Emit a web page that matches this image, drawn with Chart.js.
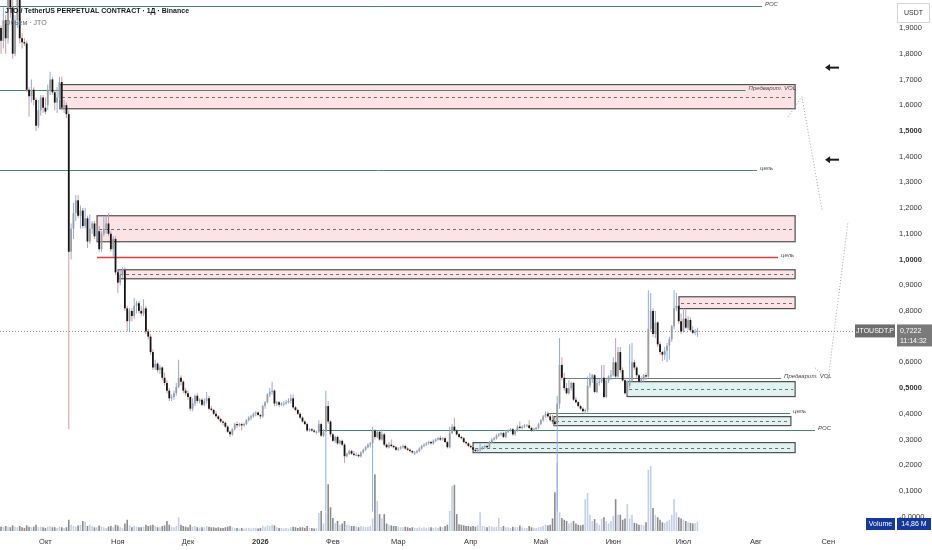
<!DOCTYPE html>
<html>
<head>
<meta charset="utf-8">
<title>JTOUSDT.P 1D</title>
<script src="https://cdn.jsdelivr.net/npm/chart.js@4.4.1/dist/chart.umd.min.js"></script>
<style>
html, body { margin: 0; padding: 0; background: #ffffff; }
#wrap { position: relative; width: 932px; height: 550px; }
</style>
</head>
<body>
<div id="wrap"><canvas id="chart" width="932" height="550"></canvas></div>
<script>
"use strict";

// Daily candles, day 0 = 12 Sep 2025, last day = 7 Jul 2026

var opens = [
	1.90,1.85,1.93,1.86,2.02,1.98,1.80,1.93,2.02,1.86,
	1.845,1.84,1.66,1.635,1.66,1.62,1.52,1.58,1.63,1.59,
	1.60,1.66,1.70,1.65,1.61,1.63,1.69,1.59,1.60,1.565,
	1.03,1.12,1.18,1.23,1.17,1.19,1.13,1.16,1.07,1.12,
	1.14,1.09,1.11,1.04,1.10,1.12,1.14,1.10,1.04,1.08,
	0.95,0.91,0.94,0.96,0.81,0.76,0.80,0.78,0.82,0.83,
	0.80,0.79,0.81,0.72,0.70,0.64,0.58,0.595,0.57,0.58,
	0.54,0.52,0.49,0.46,0.465,0.48,0.505,0.54,0.525,0.49,
	0.48,0.465,0.42,0.44,0.47,0.45,0.455,0.435,0.45,0.46,
	0.42,0.415,0.40,0.39,0.38,0.37,0.365,0.35,0.33,0.32,
	0.34,0.36,0.355,0.36,0.355,0.36,0.375,0.385,0.39,0.40,
	0.405,0.395,0.39,0.43,0.445,0.475,0.485,0.49,0.44,0.445,
	0.435,0.44,0.44,0.445,0.45,0.46,0.425,0.415,0.40,0.385,
	0.37,0.36,0.335,0.34,0.335,0.33,0.33,0.36,0.315,0.33,
	0.43,0.37,0.32,0.295,0.31,0.285,0.295,0.28,0.235,0.245,
	0.255,0.245,0.24,0.24,0.235,0.25,0.26,0.27,0.28,0.285,
	0.335,0.31,0.33,0.30,0.32,0.28,0.27,0.28,0.275,0.27,
	0.26,0.265,0.27,0.275,0.265,0.26,0.255,0.25,0.25,0.255,
	0.265,0.275,0.28,0.285,0.29,0.285,0.295,0.30,0.305,0.30,
	0.305,0.29,0.27,0.325,0.35,0.335,0.32,0.31,0.305,0.29,
	0.285,0.275,0.27,0.26,0.255,0.26,0.265,0.27,0.275,0.27,
	0.29,0.30,0.305,0.315,0.32,0.325,0.31,0.33,0.335,0.34,
	0.32,0.335,0.35,0.345,0.35,0.355,0.355,0.345,0.335,0.34,
	0.345,0.36,0.375,0.39,0.40,0.39,0.375,0.37,0.36,0.44,
	0.59,0.54,0.50,0.48,0.50,0.52,0.455,0.445,0.43,0.42,
	0.41,0.415,0.51,0.535,0.55,0.485,0.52,0.525,0.54,0.465,
	0.53,0.545,0.55,0.60,0.545,0.64,0.57,0.53,0.48,0.51,
	0.53,0.60,0.58,0.55,0.525,0.535,0.55,0.545,0.73,0.80,
	0.71,0.755,0.67,0.64,0.63,0.645,0.665,0.69,0.74,0.81,
	0.82,0.76,0.72,0.77,0.735,0.765,0.725,0.715,0.72
];

var highs = [
	1.91,1.98,1.95,2.06,2.08,2.05,1.95,2.06,2.05,1.88,
	1.86,1.85,1.67,1.70,1.67,1.63,1.62,1.64,1.64,1.63,
	1.68,1.73,1.71,1.66,1.67,1.71,1.71,1.62,1.61,1.58,
	1.14,1.22,1.25,1.25,1.21,1.20,1.20,1.17,1.175,1.15,
	1.15,1.13,1.13,1.11,1.165,1.17,1.18,1.11,1.09,1.09,
	0.96,0.96,0.97,0.97,0.82,0.81,0.81,0.85,0.84,0.84,
	0.82,0.845,0.82,0.73,0.71,0.65,0.61,0.60,0.59,0.585,
	0.56,0.53,0.50,0.475,0.49,0.52,0.61,0.55,0.53,0.50,
	0.49,0.47,0.46,0.475,0.48,0.46,0.46,0.46,0.485,0.47,
	0.43,0.42,0.41,0.395,0.385,0.375,0.37,0.355,0.335,0.345,
	0.365,0.37,0.365,0.365,0.365,0.38,0.39,0.395,0.405,0.41,
	0.41,0.40,0.435,0.45,0.48,0.50,0.525,0.495,0.45,0.45,
	0.445,0.45,0.455,0.46,0.475,0.475,0.43,0.42,0.405,0.39,
	0.375,0.365,0.345,0.345,0.34,0.335,0.375,0.365,0.34,0.49,
	0.45,0.375,0.325,0.315,0.315,0.30,0.30,0.285,0.25,0.26,
	0.26,0.255,0.25,0.245,0.255,0.265,0.275,0.285,0.29,0.35,
	0.34,0.335,0.335,0.34,0.325,0.285,0.29,0.30,0.28,0.275,
	0.27,0.275,0.28,0.28,0.27,0.265,0.26,0.255,0.26,0.27,
	0.28,0.285,0.29,0.295,0.295,0.30,0.305,0.31,0.315,0.31,
	0.31,0.295,0.35,0.36,0.385,0.34,0.325,0.315,0.31,0.295,
	0.29,0.28,0.275,0.265,0.265,0.285,0.275,0.28,0.28,0.295,
	0.305,0.31,0.32,0.325,0.33,0.33,0.335,0.34,0.345,0.345,
	0.34,0.355,0.37,0.355,0.36,0.36,0.375,0.35,0.345,0.35,
	0.365,0.38,0.395,0.41,0.41,0.40,0.395,0.38,0.47,0.695,
	0.62,0.56,0.52,0.53,0.525,0.525,0.465,0.45,0.435,0.425,
	0.42,0.545,0.56,0.555,0.555,0.535,0.535,0.59,0.59,0.535,
	0.55,0.57,0.62,0.695,0.66,0.66,0.58,0.54,0.53,0.67,
	0.675,0.61,0.585,0.555,0.545,0.555,0.56,0.88,0.87,0.81,
	0.80,0.76,0.68,0.645,0.66,0.675,0.70,0.745,0.88,0.87,
	0.84,0.79,0.81,0.805,0.78,0.775,0.74,0.73,0.735
];

var lows = [
	1.80,1.82,1.80,1.84,1.94,1.78,1.79,1.90,1.84,1.82,
	1.83,1.65,1.555,1.61,1.60,1.50,1.51,1.56,1.57,1.565,
	1.58,1.64,1.64,1.58,1.57,1.62,1.58,1.57,1.55,0.34,
	1.00,1.08,1.15,1.16,1.12,1.12,1.12,1.045,1.06,1.10,
	1.08,1.07,1.03,1.03,1.09,1.10,1.09,1.03,1.01,0.94,
	0.87,0.90,0.93,0.80,0.72,0.72,0.76,0.77,0.79,0.79,
	0.78,0.78,0.71,0.69,0.63,0.57,0.57,0.56,0.555,0.53,
	0.51,0.48,0.45,0.45,0.455,0.47,0.50,0.51,0.48,0.47,
	0.455,0.41,0.41,0.43,0.44,0.44,0.43,0.43,0.44,0.415,
	0.41,0.395,0.385,0.375,0.365,0.355,0.345,0.325,0.31,0.315,
	0.335,0.345,0.35,0.335,0.35,0.355,0.37,0.375,0.385,0.39,
	0.39,0.38,0.385,0.42,0.44,0.465,0.475,0.43,0.43,0.425,
	0.43,0.43,0.435,0.44,0.44,0.42,0.41,0.395,0.38,0.365,
	0.355,0.33,0.33,0.33,0.325,0.32,0.325,0.31,0.31,0.02,
	0.36,0.31,0.29,0.285,0.28,0.28,0.275,0.21,0.23,0.24,
	0.24,0.235,0.235,0.23,0.23,0.245,0.255,0.265,0.27,0.02,
	0.30,0.305,0.295,0.295,0.275,0.265,0.265,0.27,0.265,0.255,
	0.255,0.26,0.265,0.26,0.255,0.25,0.245,0.24,0.245,0.25,
	0.26,0.27,0.275,0.28,0.28,0.28,0.29,0.295,0.295,0.295,
	0.285,0.265,0.265,0.32,0.33,0.315,0.305,0.30,0.285,0.28,
	0.27,0.265,0.255,0.25,0.25,0.25,0.26,0.265,0.265,0.265,
	0.285,0.295,0.30,0.31,0.315,0.305,0.305,0.325,0.33,0.315,
	0.315,0.33,0.34,0.34,0.345,0.35,0.34,0.33,0.33,0.335,
	0.34,0.355,0.37,0.385,0.385,0.37,0.36,0.35,0.02,0.42,
	0.53,0.49,0.475,0.475,0.49,0.45,0.44,0.425,0.415,0.405,
	0.40,0.405,0.50,0.52,0.48,0.48,0.51,0.52,0.46,0.46,
	0.52,0.53,0.545,0.54,0.54,0.56,0.525,0.475,0.475,0.50,
	0.525,0.57,0.54,0.52,0.52,0.525,0.53,0.54,0.72,0.70,
	0.695,0.66,0.63,0.605,0.61,0.60,0.61,0.68,0.73,0.80,
	0.75,0.71,0.715,0.73,0.725,0.72,0.71,0.705,0.70
];

var closes = [
	1.85,1.93,1.86,2.02,1.98,1.80,1.93,2.02,1.86,1.845,
	1.84,1.66,1.635,1.66,1.62,1.52,1.58,1.63,1.59,1.575,
	1.66,1.70,1.65,1.61,1.63,1.69,1.59,1.60,1.565,1.03,
	1.12,1.18,1.23,1.17,1.19,1.13,1.16,1.07,1.12,1.14,
	1.09,1.11,1.04,1.10,1.12,1.14,1.10,1.04,1.08,0.95,
	0.91,0.94,0.96,0.81,0.76,0.80,0.78,0.82,0.83,0.80,
	0.79,0.81,0.72,0.70,0.64,0.58,0.595,0.57,0.58,0.54,
	0.52,0.49,0.46,0.465,0.48,0.505,0.54,0.525,0.49,0.48,
	0.465,0.42,0.44,0.47,0.45,0.455,0.435,0.45,0.46,0.42,
	0.415,0.40,0.39,0.38,0.37,0.365,0.35,0.33,0.32,0.34,
	0.36,0.355,0.36,0.355,0.36,0.375,0.385,0.39,0.40,0.405,
	0.395,0.39,0.43,0.445,0.475,0.485,0.49,0.44,0.445,0.435,
	0.44,0.44,0.445,0.45,0.46,0.425,0.415,0.40,0.385,0.37,
	0.36,0.335,0.34,0.335,0.33,0.33,0.36,0.315,0.33,0.43,
	0.37,0.32,0.295,0.31,0.285,0.295,0.28,0.235,0.245,0.255,
	0.245,0.24,0.24,0.235,0.25,0.26,0.27,0.28,0.285,0.335,
	0.31,0.33,0.30,0.32,0.28,0.27,0.28,0.275,0.27,0.26,
	0.265,0.27,0.275,0.265,0.26,0.255,0.25,0.25,0.255,0.265,
	0.275,0.28,0.285,0.29,0.285,0.295,0.30,0.305,0.30,0.305,
	0.29,0.27,0.325,0.35,0.335,0.32,0.31,0.305,0.29,0.285,
	0.275,0.27,0.26,0.255,0.26,0.265,0.27,0.275,0.27,0.29,
	0.30,0.305,0.315,0.32,0.325,0.31,0.33,0.335,0.34,0.32,
	0.335,0.35,0.345,0.35,0.355,0.355,0.345,0.335,0.34,0.345,
	0.36,0.375,0.39,0.40,0.39,0.375,0.37,0.36,0.44,0.59,
	0.54,0.50,0.48,0.50,0.52,0.455,0.445,0.43,0.42,0.41,
	0.415,0.51,0.535,0.55,0.485,0.52,0.525,0.54,0.465,0.53,
	0.545,0.55,0.60,0.545,0.64,0.57,0.53,0.48,0.51,0.53,
	0.60,0.58,0.55,0.525,0.535,0.55,0.545,0.73,0.80,0.71,
	0.755,0.67,0.64,0.63,0.645,0.665,0.69,0.74,0.81,0.82,
	0.76,0.72,0.77,0.735,0.765,0.725,0.715,0.72,0.7222
];

// volume, millions of JTO
var volumes = [
	7,6,8,7,6,9,7,6,8,6,
	5,9,7,6,7,10,6,7,6,5,
	7,8,6,6,5,7,6,5,6,18,
	10,8,7,9,10,16,15,8,10,8,
	6,6,9,7,6,5,7,8,6,10,
	9,6,5,12,18,9,6,8,7,6,
	6,7,10,8,9,10,8,6,6,8,
	9,16,10,7,6,8,22,10,8,7,
	6,10,7,8,6,5,6,6,8,7,
	6,6,5,6,5,5,6,7,8,6,
	5,5,4,5,4,5,5,4,5,5,
	4,5,8,7,9,8,10,9,6,5,
	5,4,5,4,6,7,6,5,6,6,
	5,8,5,5,4,5,29,32,12,30,
	75,38,21,13,16,10,12,16,10,9,
	8,8,7,6,8,7,6,7,8,20,
	91,48,27,20,27,12,10,9,8,8,
	7,6,6,7,6,5,6,5,5,6,
	5,6,5,6,6,5,6,5,7,6,
	8,10,32,72,74,27,11,10,9,8,
	8,7,8,7,9,30,8,7,6,8,
	7,6,7,21,6,8,6,6,5,7,
	6,6,9,6,5,5,8,6,5,5,
	6,7,8,10,9,10,20,62,109,30,
	21,18,16,12,14,16,12,10,9,10,
	51,61,26,16,19,13,10,20,22,16,
	12,16,24,51,26,26,18,20,43,20,
	26,13,12,10,10,9,14,98,104,37,
	26,22,18,14,13,16,18,26,51,30,
	22,20,18,16,14,13,12,13,14.86
];

// month starts as day numbers, and their labels
var monthDays = [19, 50, 80, 111, 142, 170, 201, 231, 262, 292, 323, 354];
var monthNames = ["Окт", "Ноя", "Дек", "2026", "Фев", "Мар", "Апр", "Май", "Июн", "Июл", "Авг", "Сен"];

var priceTicks = [0, 0.1, 0.2, 0.3, 0.4, 0.5, 0.6, 0.7, 0.8, 0.9, 1.0,
	1.1, 1.2, 1.3, 1.4, 1.5, 1.6, 1.7, 1.8, 1.9];

// Drawings (day, price)

var zones = [
	{ from: 25.2, to: 339.8, top: 1.68, bottom: 1.586, kind: "supply" },
	{ from: 41.1, to: 339.8, top: 1.17, bottom: 1.069, kind: "supply" },
	{ from: 50.1, to: 339.8, top: 0.96, bottom: 0.925, kind: "supply" },
	{ from: 290.1, to: 339.8, top: 0.855, bottom: 0.809, kind: "supply" },
	{ from: 267.9, to: 339.8, top: 0.525, bottom: 0.467, kind: "demand" },
	{ from: 236.6, to: 338.0, top: 0.389, bottom: 0.354, kind: "demand" },
	{ from: 202.0, to: 339.8, top: 0.288, bottom: 0.249, kind: "demand" }
];

var levels = [
	{ price: 1.987, from: -1, to: 325.6, kind: "green", label: "POC" },
	{ price: 1.660, from: -1, to: 318.6, kind: "green", label: "Предварит. VOL" },
	{ price: 1.349, from: -1, to: 323.5, kind: "green", label: "цель" },
	{ price: 1.011, from: 41.1, to: 332.5, kind: "red", label: "цель" },
	{ price: 0.540, from: 241.3, to: 333.8, kind: "gray", label: "Предварит. VOL" },
	{ price: 0.404, from: 234.1, to: 337.6, kind: "green", label: "цель" },
	{ price: 0.338, from: 135.6, to: 348.3, kind: "green", label: "POC" }
];

var pathTop = [[336.8, 1.555], [342.7, 1.633], [351.3, 1.194]];
var pathBottom = [[348.3, 0.579], [353.9, 0.533], [362.4, 1.143]];
var arrows = [[355.6, 1.746], [355.6, 1.388]];

// Colors

var UP_BODY = "#9d9d9d",
	DOWN_BODY = "#151515",
	UP_WICK = "#8cade6",
	DOWN_WICK = "#d39a9c",
	UP_VOL = "#c3cfe7",
	DOWN_VOL = "#8b8b8b",
	FONT = "'Liberation Sans', Arial, sans-serif";

var LEVEL_COLORS = { green: "#4e8571", red: "#e0393e", gray: "#707d78" };
var ZONE_FILLS = { supply: "#fde3e5", demand: "#e0f3f0" };

// Functions

function isUp(i) {
	return closes[i] >= opens[i];
}

function priceLabel(v) {
	var s = v.toFixed(4).replace(".", ",");
	return v === 0 ? "-" + s : s;
}

function dottedPath(ctx, chart, points) {
	var xs = chart.scales.x, ys = chart.scales.y;

	ctx.beginPath();
	for (var i = 0; i < points.length; i++) {
		var x = xs.getPixelForValue(points[i][0]), y = ys.getPixelForValue(points[i][1]);
		if (i === 0) {
			ctx.moveTo(x, y);
		}
		else {
			ctx.lineTo(x, y);
		}
	}
	ctx.stroke();
}

var drawings = {
	id: "drawings",
	beforeDatasetsDraw: function (chart) {
		var ctx = chart.ctx, xs = chart.scales.x, ys = chart.scales.y, area = chart.chartArea;
		var last = closes.length - 1, yLast = ys.getPixelForValue(closes[last]);

		ctx.save();
		// current price line
		ctx.strokeStyle = "#8d8d8d";
		ctx.lineWidth = 1;
		ctx.setLineDash([1, 2]);
		ctx.beginPath();
		ctx.moveTo(area.left, Math.round(yLast) + 0.5);
		ctx.lineTo(area.right + 3, Math.round(yLast) + 0.5);
		ctx.stroke();

		zones.forEach(function (z) {
			var x1 = xs.getPixelForValue(z.from), x2 = xs.getPixelForValue(z.to),
				y1 = ys.getPixelForValue(z.top), y2 = ys.getPixelForValue(z.bottom),
				ym = (y1 + y2) / 2;
			ctx.setLineDash([]);
			ctx.fillStyle = ZONE_FILLS[z.kind];
			ctx.fillRect(x1, y1, x2 - x1, y2 - y1);
			ctx.strokeStyle = "#4f4f4f";
			ctx.lineWidth = 1.2;
			ctx.strokeRect(x1, y1, x2 - x1, y2 - y1);
			ctx.strokeStyle = "#6e6e6e";
			ctx.lineWidth = 1;
			ctx.setLineDash([3, 3]);
			ctx.beginPath();
			ctx.moveTo(x1 + 2, Math.round(ym) + 0.5);
			ctx.lineTo(x2 - 2, Math.round(ym) + 0.5);
			ctx.stroke();
		});

		ctx.setLineDash([]);
		levels.forEach(function (l) {
			var y = Math.round(ys.getPixelForValue(l.price)) + 0.5;
			ctx.strokeStyle = LEVEL_COLORS[l.kind];
			ctx.lineWidth = l.kind === "red" ? 1.5 : 1;
			ctx.beginPath();
			ctx.moveTo(Math.max(xs.getPixelForValue(l.from), area.left), y);
			ctx.lineTo(xs.getPixelForValue(l.to), y);
			ctx.stroke();
		});
		ctx.restore();
	},
	afterDatasetsDraw: function (chart) {
		var ctx = chart.ctx, xs = chart.scales.x, ys = chart.scales.y;

		ctx.save();
		ctx.font = "italic 6px " + FONT;
		ctx.textBaseline = "middle";
		ctx.textAlign = "left";
		levels.forEach(function (l) {
			ctx.fillStyle = "#4a4a4a";
			ctx.fillText(l.label, xs.getPixelForValue(l.to) + 3, ys.getPixelForValue(l.price) - 1);
		});

		ctx.strokeStyle = "#a3a3a3";
		ctx.lineWidth = 1;
		ctx.setLineDash([1, 2]);
		dottedPath(ctx, chart, pathTop);
		dottedPath(ctx, chart, pathBottom);
		ctx.setLineDash([]);

		// left arrows
		ctx.strokeStyle = "#1c1c1c";
		ctx.fillStyle = "#1c1c1c";
		ctx.lineWidth = 2;
		arrows.forEach(function (a) {
			var x = xs.getPixelForValue(a[0]), y = ys.getPixelForValue(a[1]);
			ctx.beginPath();
			ctx.moveTo(x - 3, y);
			ctx.lineTo(x + 7, y);
			ctx.stroke();
			ctx.beginPath();
			ctx.moveTo(x - 7, y);
			ctx.lineTo(x - 2, y - 3.5);
			ctx.lineTo(x - 2, y + 3.5);
			ctx.closePath();
			ctx.fill();
		});
		ctx.restore();
	},
	afterDraw: function (chart) {
		var ctx = chart.ctx, ys = chart.scales.y, area = chart.chartArea;
		var last = closes.length - 1, yLast = ys.getPixelForValue(closes[last]);
		var ax = area.right;

		ctx.save();
		ctx.textBaseline = "middle";

		// title
		ctx.textAlign = "left";
		ctx.font = "bold 7px " + FONT;
		ctx.fillStyle = "#131722";
		ctx.fillText("JTO / TetherUS PERPETUAL CONTRACT · 1Д · Binance", 5, 11);
		ctx.font = "7px " + FONT;
		ctx.fillStyle = "#6a6d78";
		ctx.fillText("Объем · JTO", 5, 23);

		// USDT box
		ctx.fillStyle = "#ffffff";
		ctx.fillRect(ax + 45, 3, 32, 19);
		ctx.strokeStyle = "#d6d6d6";
		ctx.lineWidth = 1;
		ctx.strokeRect(ax + 45.5, 3.5, 32, 19);
		ctx.fillStyle = "#333333";
		ctx.font = "7px " + FONT;
		ctx.textAlign = "center";
		ctx.fillText("USDT", ax + 61.5, 13);

		// last price tags
		ctx.fillStyle = "#6d6d6d";
		ctx.fillRect(ax + 3, yLast - 6.5, 40, 13);
		ctx.fillStyle = "#7a7a7a";
		ctx.fillRect(ax + 45, yLast - 6.5, 35, 22);
		ctx.fillStyle = "#ffffff";
		ctx.font = "7px " + FONT;
		ctx.fillText("JTOUSDT.P", ax + 23, yLast);
		ctx.textAlign = "left";
		ctx.fillText(priceLabel(closes[last]), ax + 48, yLast);
		ctx.fillText("11:14:32", ax + 48, yLast + 10);

		// volume tags
		var yv = area.bottom - 7;
		ctx.fillStyle = "#15399a";
		ctx.fillRect(ax + 14, yv - 6, 29, 12);
		ctx.fillRect(ax + 45, yv - 6, 34, 12);
		ctx.fillStyle = "#ffffff";
		ctx.textAlign = "center";
		ctx.fillText("Volume", ax + 28.5, yv);
		ctx.fillText(volumes[last].toFixed(2).replace(".", ",") + " M", ax + 62, yv);
		ctx.restore();
	}
};

// Chart

var days = closes.map(function (c, i) { return i; });

var bodyData = days.map(function (i) { return { x: i, y: [opens[i], closes[i]] }; });
var wickData = days.map(function (i) { return { x: i, y: [lows[i], highs[i]] }; });
var volumeData = days.map(function (i) { return { x: i, y: volumes[i] }; });

var chart = new Chart(document.getElementById("chart"), {
	type: "bar",
	data: {
		datasets: [
			{
				label: "body",
				data: bodyData,
				backgroundColor: function (c) { return isUp(c.dataIndex) ? UP_BODY : DOWN_BODY; },
				barThickness: 1.8,
				minBarLength: 1,
				grouped: false,
				inflateAmount: 0,
				borderWidth: 0,
				yAxisID: "y"
			},
			{
				label: "wick",
				data: wickData,
				backgroundColor: function (c) { return isUp(c.dataIndex) ? UP_WICK : DOWN_WICK; },
				barThickness: 1,
				grouped: false,
				inflateAmount: 0,
				borderWidth: 0,
				yAxisID: "y"
			},
			{
				label: "volume",
				data: volumeData,
				backgroundColor: function (c) { return isUp(c.dataIndex) ? UP_VOL : DOWN_VOL; },
				barThickness: 1.6,
				grouped: false,
				inflateAmount: 0,
				borderWidth: 0,
				yAxisID: "vol"
			}
		]
	},
	options: {
		responsive: false,
		animation: false,
		events: [],
		layout: { padding: 0 },
		plugins: { legend: { display: false }, tooltip: { enabled: false } },
		scales: {
			x: {
				type: "linear",
				min: -0.43,
				max: 364.14,
				offset: false,
				grid: { display: false, drawTicks: false },
				border: { display: false },
				ticks: {
					autoSkip: false,
					maxRotation: 0,
					padding: 6,
					color: "#333333",
					font: function (c) {
						return { family: FONT, size: 7.5, weight: c.tick && c.tick.value === 111 ? "bold" : "normal" };
					},
					callback: function (v, i) { return monthNames[i]; }
				},
				afterBuildTicks: function (s) {
					s.ticks = monthDays.map(function (d) { return { value: d }; });
				},
				afterFit: function (s) {
					s.height = 19;
					s.paddingLeft = 0;
					s.paddingRight = 0;
				}
			},
			y: {
				type: "linear",
				position: "right",
				min: -0.0557,
				max: 2.0089,
				grid: { display: false, drawTicks: false },
				border: { display: false },
				ticks: {
					padding: 47,
					color: "#333333",
					font: function (c) {
						var v = c.tick ? Math.round(c.tick.value * 10) : 0;
						return { family: FONT, size: 7.5, weight: (v === 5 || v === 10 || v === 15) ? "bold" : "normal" };
					},
					callback: function (v) { return priceLabel(v); }
				},
				afterBuildTicks: function (s) {
					s.ticks = priceTicks.map(function (p) { return { value: p }; });
				},
				afterFit: function (s) {
					s.width = 80;
					s.paddingTop = 0;
					s.paddingBottom = 0;
				}
			},
			vol: {
				type: "linear",
				display: false,
				min: 0,
				max: 850
			}
		}
	},
	plugins: [drawings]
});
</script>
</body>
</html>
